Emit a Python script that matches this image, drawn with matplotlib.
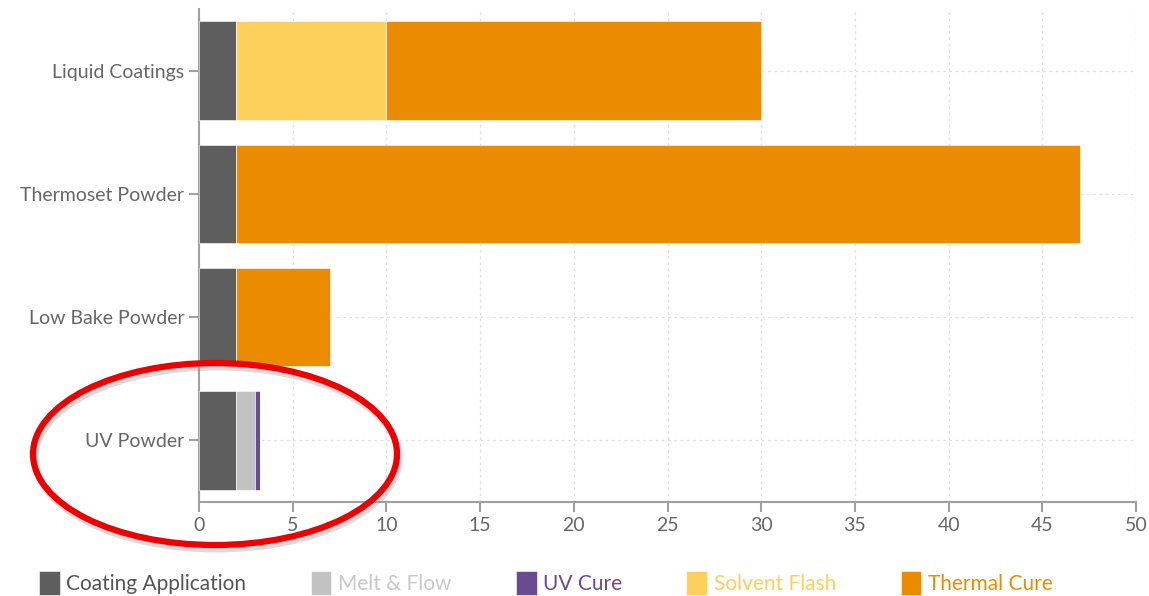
import matplotlib.pyplot as plt
from matplotlib.patches import Ellipse
import numpy as np

plt.rcParams['font.family'] = ['Lato', 'DejaVu Sans']

# 数据
categories = ['Liquid Coatings', 'Thermoset Powder', 'Low Bake Powder', 'UV Powder']
series = ['Coating Application', 'Melt & Flow', 'UV Cure', 'Solvent Flash', 'Thermal Cure']
coating_application = [2, 2, 2, 2]
melt_flow = [0, 0, 0, 1]
uv_cure = [0, 0, 0, 0.25]
solvent_flash = [8, 0, 0, 0]
thermal_cure = [20, 45, 5, 0]
colors = ['#5e5e5e', '#c2c2c2', '#6a4a92', '#fdd05c', '#eb8c00']
text_colors = ['#555555', '#c8c8c8', '#6a4a92', '#fdd05c', '#eb8c00']

fig = plt.figure(figsize=(11.49, 5.96), dpi=100)
ax = fig.add_axes([0.1732, 0.1577, 0.8155, 0.8273])

y = np.arange(len(categories))
left = np.zeros(len(categories))
for name, vals, c in zip(series, [coating_application, melt_flow, uv_cure, solvent_flash, thermal_cure], colors):
    ax.barh(y, vals, left=left, height=0.8, color=c, edgecolor='white', linewidth=0.4, label=name, zorder=3)
    left += np.array(vals)

ax.set_ylim(len(categories) - 0.5, -0.5)
ax.set_xlim(0, 50)
ax.set_xticks(range(0, 51, 5))
ax.set_yticks(y)
ax.set_yticklabels(categories)

# 网格 虚线
ax.grid(True, linestyle=(0, (2, 3)), color='#dddddd', linewidth=0.9, zorder=0)
for s in ['top', 'right']:
    ax.spines[s].set_visible(False)
for s in ['left', 'bottom']:
    ax.spines[s].set_color('#a0a0a0')
    ax.spines[s].set_linewidth(1.5)
ax.tick_params(axis='both', colors='#a0a0a0', width=1.5, length=7, labelsize=14, labelcolor='#666666')

# 图例
leg = fig.legend(loc='lower left', bbox_to_anchor=(0.0176, -0.03), ncol=5, frameon=False,
                 fontsize=15, handlelength=1.0, handleheight=1.4, handletextpad=0.3,
                 columnspacing=3.1, labelcolor=text_colors)

# 红色椭圆（带阴影）
fig.add_artist(Ellipse((217 / 1149, 1 - 458 / 596), 364 / 1149, 182 / 596,
                       transform=fig.transFigure, fill=False, edgecolor='#999999', alpha=0.35, linewidth=5))
fig.add_artist(Ellipse((215 / 1149, 1 - 454 / 596), 364 / 1149, 182 / 596,
                       transform=fig.transFigure, fill=False, edgecolor='#ee0000', linewidth=4.5))

plt.savefig('out.png', dpi=100)
